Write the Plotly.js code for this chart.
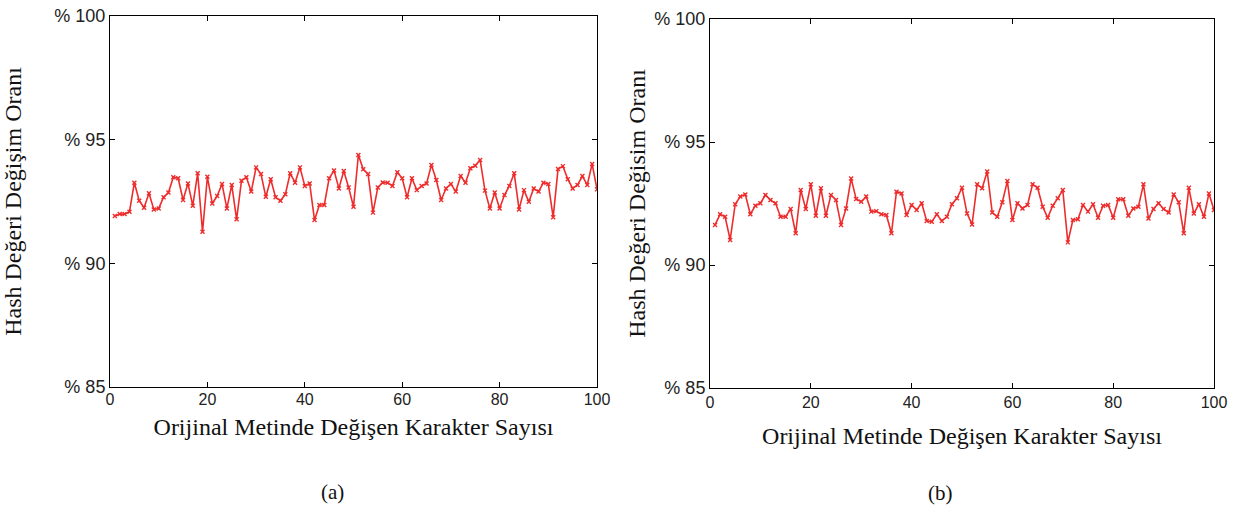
<!DOCTYPE html>
<html>
<head>
<meta charset="utf-8">
<script src="https://cdn.plot.ly/plotly-3.0.1.min.js"></script>
<style>html,body{margin:0;padding:0;background:#fff;}#chart{width:1238px;height:508px;}</style>
</head>
<body>
<div id="chart"></div>
<script>
// Character positions 1..100
const xValues = Array.from({length: 100}, (_, i) => i + 1);

// Panel (a)
const seriesA = [
  91.91, 91.99, 91.99, 92.09, 93.26, 92.53, 92.25, 92.83, 92.18, 92.22,
  92.67, 92.86, 93.48, 93.44, 92.56, 93.23, 92.33, 93.64, 91.28, 93.50,
  92.42, 92.72, 93.21, 92.22, 93.17, 91.78, 93.34, 93.48, 92.90, 93.88,
  93.61, 92.69, 93.40, 92.67, 92.53, 92.79, 93.64, 93.26, 93.88, 93.13,
  93.23, 91.75, 92.36, 92.36, 93.44, 93.75, 93.03, 93.73, 93.07, 92.29,
  94.38, 93.80, 93.61, 92.05, 93.07, 93.27, 93.26, 93.13, 93.68, 93.44,
  92.67, 93.44, 92.96, 93.13, 93.23, 93.98, 93.37, 92.56, 93.03, 93.21,
  92.90, 93.53, 93.26, 93.84, 93.95, 94.18, 92.94, 92.22, 92.86, 92.22,
  92.76, 93.13, 93.64, 92.18, 92.96, 92.49, 93.03, 92.90, 93.26, 93.21,
  91.86, 93.81, 93.93, 93.40, 93.03, 93.17, 93.53, 93.17, 94.02, 92.99
];

// Panel (b)
const seriesB = [
  91.63, 92.06, 91.96, 91.02, 92.47, 92.78, 92.87, 92.06, 92.41, 92.51,
  92.85, 92.64, 92.51, 91.96, 91.96, 92.28, 91.29, 93.05, 92.28, 93.28,
  92.00, 93.12, 92.00, 92.85, 92.64, 91.63, 92.30, 93.52, 92.68, 92.57,
  92.78, 92.17, 92.19, 92.06, 92.03, 91.29, 92.98, 92.91, 92.03, 92.44,
  92.24, 92.51, 91.79, 91.76, 92.06, 91.79, 91.96, 92.47, 92.71, 93.14,
  92.09, 91.65, 93.28, 93.12, 93.80, 92.13, 91.96, 92.55, 93.41, 91.83,
  92.51, 92.30, 92.44, 93.28, 93.14, 92.37, 91.92, 92.41, 92.71, 93.05,
  90.92, 91.83, 91.86, 92.44, 92.17, 92.47, 91.92, 92.41, 92.44, 91.92,
  92.67, 92.67, 92.00, 92.30, 92.37, 93.28, 91.89, 92.28, 92.51, 92.28,
  92.13, 92.87, 92.55, 91.29, 93.14, 92.09, 92.47, 91.96, 92.91, 92.24
];

const yTickVals = [85, 90, 95, 100];
const yTickText = ['% 85', '% 90', '% 95', '% 100'];
const xTickVals = [0, 20, 40, 60, 80, 100];

const xTitle = 'Orijinal Metinde Değişen Karakter Sayısı';
const yTitleA = 'Hash Değeri Değişim Oranı';
const yTitleB = 'Hash Değeri Değisim Oranı';
const captions = ['(a)', '(b)'];

const lineColor = '#ee2c2c';
const yTickFont = {family: 'Liberation Sans, Arial, sans-serif', size: 18, color: '#222'};
const xTickFont = {family: 'Liberation Sans, Arial, sans-serif', size: 16, color: '#222'};
const titleFont = {family: 'Liberation Serif, Times New Roman, serif', size: 24, color: '#111'};
const captionFont = {family: 'Liberation Serif, Times New Roman, serif', size: 21, color: '#111'};

function trace(y, xa, ya) {
  return {
    x: xValues, y: y, xaxis: xa, yaxis: ya,
    type: 'scatter', mode: 'lines+markers',
    line: {color: lineColor, width: 1.6},
    marker: {symbol: 'x-thin', size: 4, color: lineColor, line: {color: lineColor, width: 1.4}},
    hoverinfo: 'skip', showlegend: false
  };
}

function xAxis(domain, anchor, standoff, labelStandoff) {
  return {
    domain: domain, anchor: anchor, range: [0, 100],
    tickvals: xTickVals, ticks: 'inside', ticklen: 5, tickcolor: '#000',
    ticklabelstandoff: labelStandoff,
    showline: true, linecolor: '#000', linewidth: 1, mirror: 'ticks',
    showgrid: false, zeroline: false, tickfont: xTickFont,
    title: {text: xTitle, font: titleFont, standoff: standoff}
  };
}
function yAxis(domain, anchor, title, standoff) {
  return {
    domain: domain, anchor: anchor, range: [85, 100],
    tickvals: yTickVals, ticktext: yTickText, ticks: 'inside', ticklen: 5, tickcolor: '#000',
    showline: true, linecolor: '#000', linewidth: 1, mirror: 'ticks',
    showgrid: false, zeroline: false, tickfont: yTickFont,
    title: {text: title, font: titleFont, standoff: standoff}
  };
}

const layout = {
  width: 1238, height: 508,
  margin: {l: 0, r: 0, t: 0, b: 0},
  paper_bgcolor: '#fff', plot_bgcolor: '#fff',
  xaxis: xAxis([110/1238, 597/1238], 'y', 10, -2),
  yaxis: yAxis([1 - 387/508, 1 - 16/508], 'x', yTitleA, 28),
  xaxis2: xAxis([710/1238, 1214/1238], 'y2', 16, 0),
  yaxis2: yAxis([1 - 388/508, 1 - 19/508], 'x2', yTitleB, 1),
  annotations: [
    {text: captions[0], xref: 'paper', yref: 'paper', x: 333/1238, y: 1 - 492/508,
     showarrow: false, font: captionFont, xanchor: 'center', yanchor: 'middle'},
    {text: captions[1], xref: 'paper', yref: 'paper', x: 940/1238, y: 1 - 493/508,
     showarrow: false, font: captionFont, xanchor: 'center', yanchor: 'middle'}
  ]
};

Plotly.newPlot('chart', [trace(seriesA, 'x', 'y'), trace(seriesB, 'x2', 'y2')], layout, {displayModeBar: false, staticPlot: true});
</script>
</body>
</html>
